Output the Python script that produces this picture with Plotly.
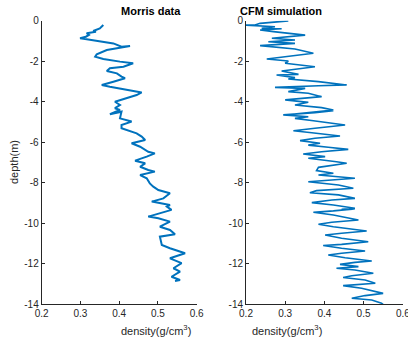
import plotly.graph_objects as go

# Morris data (density g/cm3, depth m)
morris_density = [0.359, 0.350, 0.333, 0.340, 0.316, 0.322, 0.314, 0.299, 0.312, 0.350, 0.385, 0.406, 0.428,
                  0.368, 0.342, 0.338, 0.345, 0.359, 0.402, 0.436, 0.411, 0.376, 0.368, 0.380, 0.394, 0.406,
                  0.415, 0.385, 0.355, 0.376, 0.419, 0.458, 0.445, 0.419, 0.389, 0.402, 0.389, 0.402, 0.376,
                  0.406, 0.402, 0.432, 0.406, 0.406, 0.445, 0.458, 0.467, 0.432, 0.454, 0.475, 0.492, 0.471,
                  0.441, 0.467, 0.454, 0.475, 0.492, 0.454, 0.471, 0.479, 0.488, 0.501, 0.531, 0.514, 0.484,
                  0.531, 0.523, 0.535, 0.501, 0.475, 0.501, 0.531, 0.505, 0.531, 0.544, 0.505, 0.510, 0.531,
                  0.570, 0.531, 0.561, 0.540, 0.557, 0.535, 0.557, 0.544]
morris_depth = [-0.21, -0.38, -0.51, -0.55, -0.62, -0.70, -0.79, -0.87, -0.90, -1.02, -1.12, -1.28, -1.25,
                -1.45, -1.66, -1.78, -1.82, -1.89, -2.02, -2.10, -2.27, -2.35, -2.48, -2.52, -2.60, -2.76,
                -2.84, -3.01, -3.17, -3.26, -3.42, -3.54, -3.67, -3.83, -4.00, -4.16, -4.32, -4.41, -4.62,
                -4.49, -4.82, -4.98, -5.15, -5.31, -5.56, -5.72, -5.89, -6.05, -6.22, -6.47, -6.55, -6.71,
                -6.91, -7.04, -7.21, -7.37, -7.45, -7.62, -7.78, -8.03, -8.19, -8.36, -8.52, -8.77, -8.93,
                -9.10, -9.18, -9.34, -9.51, -9.67, -9.75, -9.92, -10.17, -10.33, -10.54, -10.66, -11.07, -11.23,
                -11.48, -11.73, -11.97, -12.22, -12.39, -12.64, -12.80, -12.85]

# CFM simulation
cfm_density = [0.308, 0.282, 0.236, 0.223, 0.200, 0.274, 0.240, 0.291, 0.236, 0.270, 0.308, 0.351, 0.266,
               0.325, 0.257, 0.325, 0.236, 0.282, 0.325, 0.372, 0.308, 0.253, 0.308, 0.300, 0.376, 0.325,
               0.291, 0.334, 0.278, 0.325, 0.308, 0.385, 0.457, 0.385, 0.274, 0.351, 0.308, 0.359, 0.393,
               0.300, 0.359, 0.325, 0.393, 0.423, 0.376, 0.317, 0.423, 0.376, 0.295, 0.359, 0.325, 0.372,
               0.402, 0.453, 0.376, 0.321, 0.368, 0.440, 0.376, 0.338, 0.389, 0.359, 0.410, 0.461, 0.393,
               0.346, 0.402, 0.359, 0.431, 0.457, 0.385, 0.380, 0.423, 0.385, 0.478, 0.410, 0.359, 0.436,
               0.474, 0.380, 0.363, 0.436, 0.478, 0.419, 0.368, 0.423, 0.478, 0.444, 0.478, 0.423, 0.372,
               0.423, 0.487, 0.419, 0.385, 0.423, 0.461, 0.508, 0.444, 0.402, 0.444, 0.512, 0.444, 0.397,
               0.444, 0.504, 0.444, 0.410, 0.453, 0.521, 0.478, 0.440, 0.487, 0.431, 0.478, 0.525, 0.470,
               0.448, 0.504, 0.530, 0.448, 0.495, 0.550, 0.504, 0.470, 0.521, 0.546, 0.550]
cfm_depth = [-0.01, -0.05, -0.13, -0.21, -0.22, -0.30, -0.38, -0.40, -0.46, -0.54, -0.62, -0.71, -0.87,
             -0.95, -1.04, -1.12, -1.23, -1.33, -1.40, -1.61, -1.78, -1.89, -1.99, -2.10, -2.27, -2.38,
             -2.48, -2.65, -2.68, -2.81, -2.88, -3.01, -3.17, -3.21, -3.29, -3.34, -3.50, -3.58, -3.75,
             -3.91, -4.03, -4.16, -4.29, -4.41, -4.49, -4.62, -4.44, -4.54, -4.65, -4.74, -4.82, -4.94,
             -5.03, -5.15, -5.31, -5.43, -5.53, -5.69, -5.80, -5.92, -6.05, -6.14, -6.25, -6.35, -6.47,
             -6.58, -6.71, -6.79, -6.96, -7.04, -7.24, -7.40, -7.53, -7.62, -7.78, -7.86, -7.95, -8.11,
             -8.27, -8.39, -8.49, -8.60, -8.77, -8.85, -8.98, -9.10, -9.26, -9.31, -9.29, -9.39, -9.46,
             -9.59, -9.84, -9.95, -10.05, -10.17, -10.28, -10.38, -10.49, -10.58, -10.74, -10.91, -11.04, -11.10,
             -11.23, -11.37, -11.48, -11.57, -11.70, -11.86, -11.93, -12.03, -12.14, -12.22, -12.31, -12.47, -12.59,
             -12.68, -12.80, -12.96, -13.08, -13.21, -13.46, -13.57, -13.70, -13.79, -13.95, -14.0]

x_ticks = [0.2, 0.3, 0.4, 0.5, 0.6]
y_ticks = [0, -2, -4, -6, -8, -10, -12, -14]
y_ticklabels = ["0", "-2", "-4", "-6", "-8", "-10", "-12", "-14"]
titles = ["Morris data", "CFM simulation"]

LINE = "#0072BD"
AX = "#262626"
FONT = "Liberation Sans, Arial, sans-serif"

fig = go.Figure()
fig.add_trace(go.Scatter(x=morris_density, y=morris_depth, mode="lines",
                         line=dict(color=LINE, width=2.0), xaxis="x", yaxis="y", showlegend=False))
fig.add_trace(go.Scatter(x=cfm_density, y=cfm_depth, mode="lines",
                         line=dict(color=LINE, width=1.6), xaxis="x2", yaxis="y2", showlegend=False))

W, H = 408, 342
ydom = [1 - 304.3 / H, 1 - 20.7 / H]
xdom1 = [41.7 / W, 196.7 / W]
xdom2 = [246 / W, 402.7 / W]

common_x = dict(range=[0.2, 0.6], tickvals=x_ticks, ticktext=[f"{v:.1f}" for v in x_ticks],
                showline=True, linecolor=AX, linewidth=1, ticks="inside", ticklen=3, tickcolor=AX,
                showgrid=False, zeroline=False, automargin=False,
                tickfont=dict(family=FONT, size=10, color=AX))
common_y = dict(range=[-14, 0], tickvals=y_ticks, ticktext=y_ticklabels,
                showline=True, linecolor=AX, linewidth=1, ticks="inside", ticklen=3, tickcolor=AX,
                showgrid=False, zeroline=False, automargin=False,
                tickfont=dict(family=FONT, size=10, color=AX), domain=ydom)

fig.update_layout(
    width=W, height=H, margin=dict(l=0, r=0, t=0, b=0, autoexpand=False),
    paper_bgcolor="white", plot_bgcolor="white",
    xaxis=dict(domain=xdom1, anchor="y", **common_x),
    yaxis=dict(anchor="x", **common_y),
    xaxis2=dict(domain=xdom2, anchor="y2", **common_x),
    yaxis2=dict(anchor="x2", **common_y),
)

# subplot titles and x labels
for i, t in enumerate(titles):
    dom = xdom1 if i == 0 else xdom2
    fig.add_annotation(text=f"<b>{t}</b>", x=(dom[0] + dom[1]) / 2, y=1 - 11 / H,
                       xref="paper", yref="paper", showarrow=False,
                       font=dict(family=FONT, size=11, color="black"), yanchor="middle")
    fig.add_annotation(text="density(g/cm<sup>3</sup>)", x=(dom[0] + dom[1]) / 2, y=1 - 330 / H,
                       xref="paper", yref="paper", showarrow=False,
                       font=dict(family=FONT, size=11, color=AX), yanchor="middle")

# last tick label of the right panel (clipped at the figure edge, as in the reference)
fig.add_annotation(text=f"{x_ticks[-1]:.1f}", x=x_ticks[-1], y=1 - 306 / H, xref="x2", yref="paper",
                   showarrow=False, xanchor="center", yanchor="top",
                   font=dict(family=FONT, size=10, color=AX))

# y-axis label
fig.add_annotation(text="depth(m)", x=14 / W, y=1 - 162 / H, xref="paper", yref="paper",
                   showarrow=False, textangle=-90, font=dict(family=FONT, size=11, color=AX),
                   xanchor="center", yanchor="middle")

fig.write_html("out.html")
